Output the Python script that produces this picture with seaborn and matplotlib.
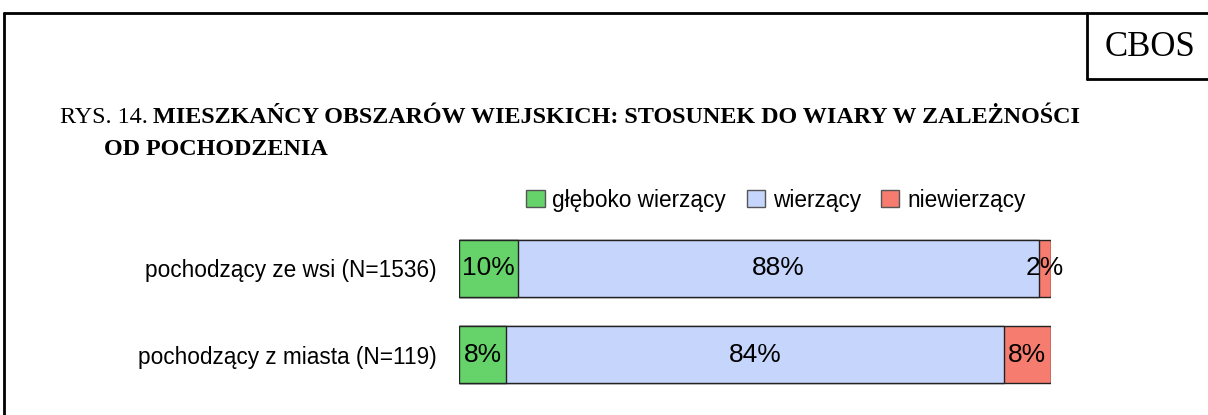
import numpy as np
import pandas as pd
import matplotlib
matplotlib.use("Agg")
import matplotlib.pyplot as plt
import seaborn as sns
from matplotlib.patches import Patch
from matplotlib.lines import Line2D

# dane z wykresu
groups = ["pochodzący ze wsi (N=1536)", "pochodzący z miasta (N=119)"]
series = ["głęboko wierzący", "wierzący", "niewierzący"]
gleboko = [10, 8]
wierzacy = [88, 84]
niewierzacy = [2, 8]
colors = ["#66D36A", "#C5D5FC", "#F57C6E"]

sns.set_theme(style="white")
plt.rcParams["font.family"] = ["Liberation Sans", "DejaVu Sans"]
plt.rcParams["text.color"] = "black"
plt.rcParams["ytick.color"] = "black"
plt.rcParams["ytick.labelcolor"] = "black"

df = pd.DataFrame({"grupa": groups, series[0]: gleboko, series[1]: wierzacy, series[2]: niewierzacy})
cum = df[series].cumsum(axis=1)

fig = plt.figure(figsize=(12.08, 4.15), dpi=100)
W, H = 1208, 415
ax = fig.add_axes([459 / W, 1 - 398 / H, 592 / W, 173 / H])

# skumulowane slupki, od najdluzszego
for s, c in reversed(list(zip(series, colors))):
    sns.barplot(x=cum[s], y=df["grupa"], orient="h", color=c, width=0.66,
                edgecolor="#222222", linewidth=1, saturation=1, ax=ax)

for i in range(len(groups)):
    left = 0
    for s in series:
        v = df.loc[i, s]
        ax.text(left + v / 2, i, f"{v}%", ha="center", va="center", fontsize=19, color="black")
        left += v

ax.set_xlim(0, 100)
ax.set_ylim(1.5, -0.5)
ax.set_xlabel("")
ax.set_ylabel("")
ax.set_xticks([])
ax.tick_params(axis="y", length=0, pad=16, labelsize=16.3)
for sp in ax.spines.values():
    sp.set_visible(False)

handles = [Patch(facecolor=c, edgecolor="#555555", linewidth=1) for c in colors]
fig.legend(handles, series, loc="center", bbox_to_anchor=(776 / W, 1 - 200 / H), ncol=3,
           frameon=False, fontsize=16.3, handlelength=0.8, handleheight=0.8,
           handletextpad=0.35, columnspacing=0.9)

# tytul: "RYS. 14." zwykly, dalej pogrubiony
serif = ["Liberation Serif", "DejaVu Serif"]
t0 = fig.text(60 / W, 1 - 123 / H, "RYS. 14.", family=serif, fontsize=17.4, va="baseline")
fig.canvas.draw()
x_end = t0.get_window_extent().x1 / W
fig.text(x_end + 5 / W, 1 - 123 / H, "MIESZKAŃCY OBSZARÓW WIEJSKICH: STOSUNEK DO WIARY W ZALEŻNOŚCI",
         family=serif, fontsize=17.4, fontweight="bold", va="baseline")
fig.text(104 / W, 1 - 155 / H, "OD POCHODZENIA", family=serif, fontsize=17.4,
         fontweight="bold", va="baseline")

# ramka i CBOS
lw = 2
fig.add_artist(Line2D([4 / W, 1], [1 - 13 / H, 1 - 13 / H], color="black", lw=lw))
fig.add_artist(Line2D([4 / W, 4 / W], [0, 1 - 13 / H], color="black", lw=lw))
fig.add_artist(Line2D([1087 / W, 1087 / W], [1 - 79 / H, 1 - 13 / H], color="black", lw=lw))
fig.add_artist(Line2D([1087 / W, 1], [1 - 79 / H, 1 - 79 / H], color="black", lw=lw))
fig.text(1150 / W, 1 - 47 / H, "CBOS", family=serif, fontsize=25, ha="center", va="center")

fig.savefig("out.png", dpi=100)
